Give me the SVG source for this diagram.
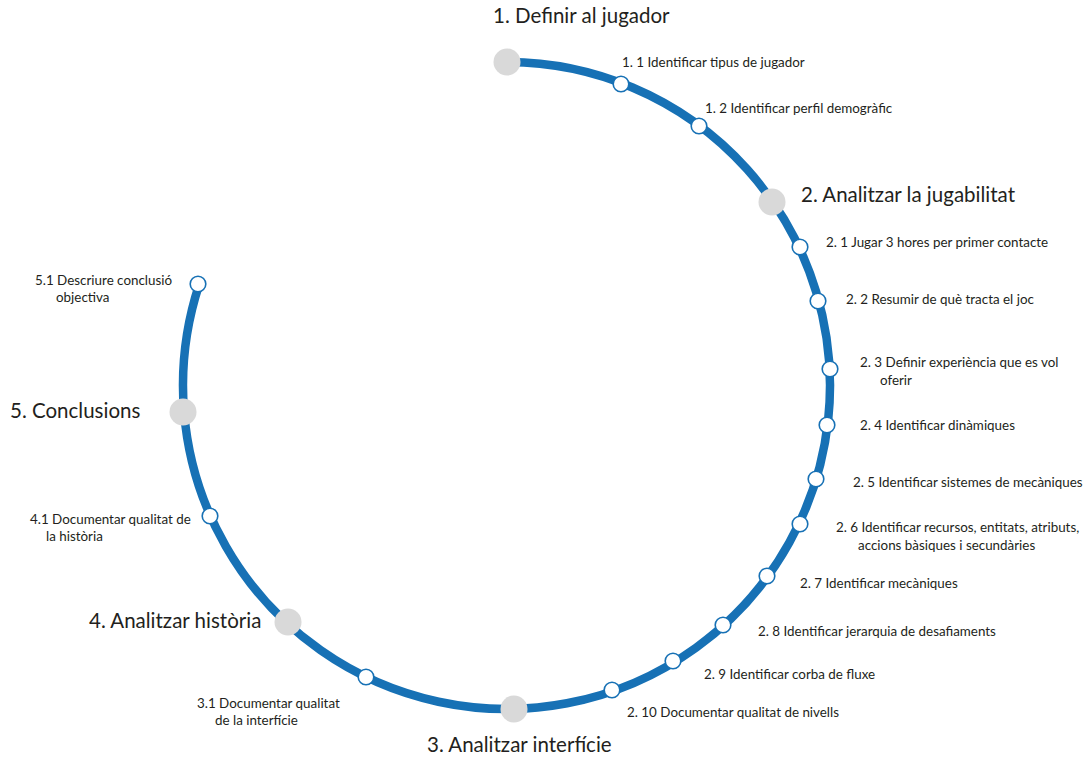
<svg xmlns="http://www.w3.org/2000/svg" width="1089" height="762" viewBox="0 0 1089 762">
<style>
.arc{fill:none;stroke:#1771b5;stroke-width:8.5}
.big{fill:#d9d9d9}
.sm{fill:#fff;stroke:#1771b5;stroke-width:1.6}
text{font-family:Lato,"Open Sans","Liberation Sans",sans-serif;fill:#231f20}
.h{font-size:20.5px}
.s{font-size:13.4px}
</style>
<rect width="1089" height="762" fill="#fff"/>
<g id="connectors">
<path class="arc" d="M 506.5 62 A 323.5 323.5 0 1 1 199.2 284.4"/>
</g>
<g id="n1"><circle class="big" cx="507" cy="62" r="13.5"/><text class="h" x="493" y="23">1. Definir al jugador</text></g>
<g id="n11"><circle class="sm" cx="621" cy="84" r="7.8"/><text class="s" x="622" y="67">1. 1 Identificar tipus de jugador</text></g>
<g id="n12"><circle class="sm" cx="699" cy="126" r="7.8"/><text class="s" x="705" y="113">1. 2 Identificar perfil demogràfic</text></g>
<g id="n2"><circle class="big" cx="772" cy="202" r="13.5"/><text class="h" x="801" y="202">2. Analitzar la jugabilitat</text></g>
<g id="n21"><circle class="sm" cx="800" cy="247" r="7.8"/><text class="s" x="826" y="247">2. 1 Jugar 3 hores per primer contacte</text></g>
<g id="n22"><circle class="sm" cx="818" cy="301" r="7.8"/><text class="s" x="846" y="304">2. 2 Resumir de què tracta el joc</text></g>
<g id="n23"><circle class="sm" cx="830" cy="369" r="7.8"/><text class="s" x="860" y="367">2. 3 Definir experiència que es vol</text><text class="s" x="880" y="385">oferir</text></g>
<g id="n24"><circle class="sm" cx="827" cy="425" r="7.8"/><text class="s" x="860" y="430">2. 4 Identificar dinàmiques</text></g>
<g id="n25"><circle class="sm" cx="816" cy="479" r="7.8"/><text class="s" x="853" y="487">2. 5 Identificar sistemes de mecàniques</text></g>
<g id="n26"><circle class="sm" cx="800" cy="524" r="7.8"/><text class="s" x="836" y="532">2. 6 Identificar recursos, entitats, atributs,</text><text class="s" x="858" y="550">accions bàsiques i secundàries</text></g>
<g id="n27"><circle class="sm" cx="767" cy="576" r="7.8"/><text class="s" x="800" y="588">2. 7 Identificar mecàniques</text></g>
<g id="n28"><circle class="sm" cx="723" cy="625" r="7.8"/><text class="s" x="758" y="636">2. 8 Identificar jerarquia de desafiaments</text></g>
<g id="n29"><circle class="sm" cx="673" cy="661" r="7.8"/><text class="s" x="704" y="679">2. 9 Identificar corba de fluxe</text></g>
<g id="n210"><circle class="sm" cx="612" cy="690" r="7.8"/><text class="s" x="627" y="717">2. 10 Documentar qualitat de nivells</text></g>
<g id="n3"><circle class="big" cx="514" cy="709" r="13.5"/><text class="h" x="427" y="752">3. Analitzar interfície</text></g>
<g id="n31"><circle class="sm" cx="366" cy="677" r="7.8"/><text class="s" x="197" y="708">3.1 Documentar qualitat</text><text class="s" x="215" y="725">de la interfície</text></g>
<g id="n4"><circle class="big" cx="288" cy="622" r="13.5"/><text class="h" x="89" y="628">4. Analitzar història</text></g>
<g id="n41"><circle class="sm" cx="210" cy="516" r="7.8"/><text class="s" x="30" y="524">4.1 Documentar qualitat de</text><text class="s" x="46" y="541">la història</text></g>
<g id="n5"><circle class="big" cx="183" cy="412" r="13.5"/><text class="h" x="10" y="418">5. Conclusions</text></g>
<g id="n51"><circle class="sm" cx="198" cy="284" r="7.8"/><text class="s" x="35" y="285">5.1 Descriure conclusió</text><text class="s" x="56" y="302">objectiva</text></g>
</svg>
